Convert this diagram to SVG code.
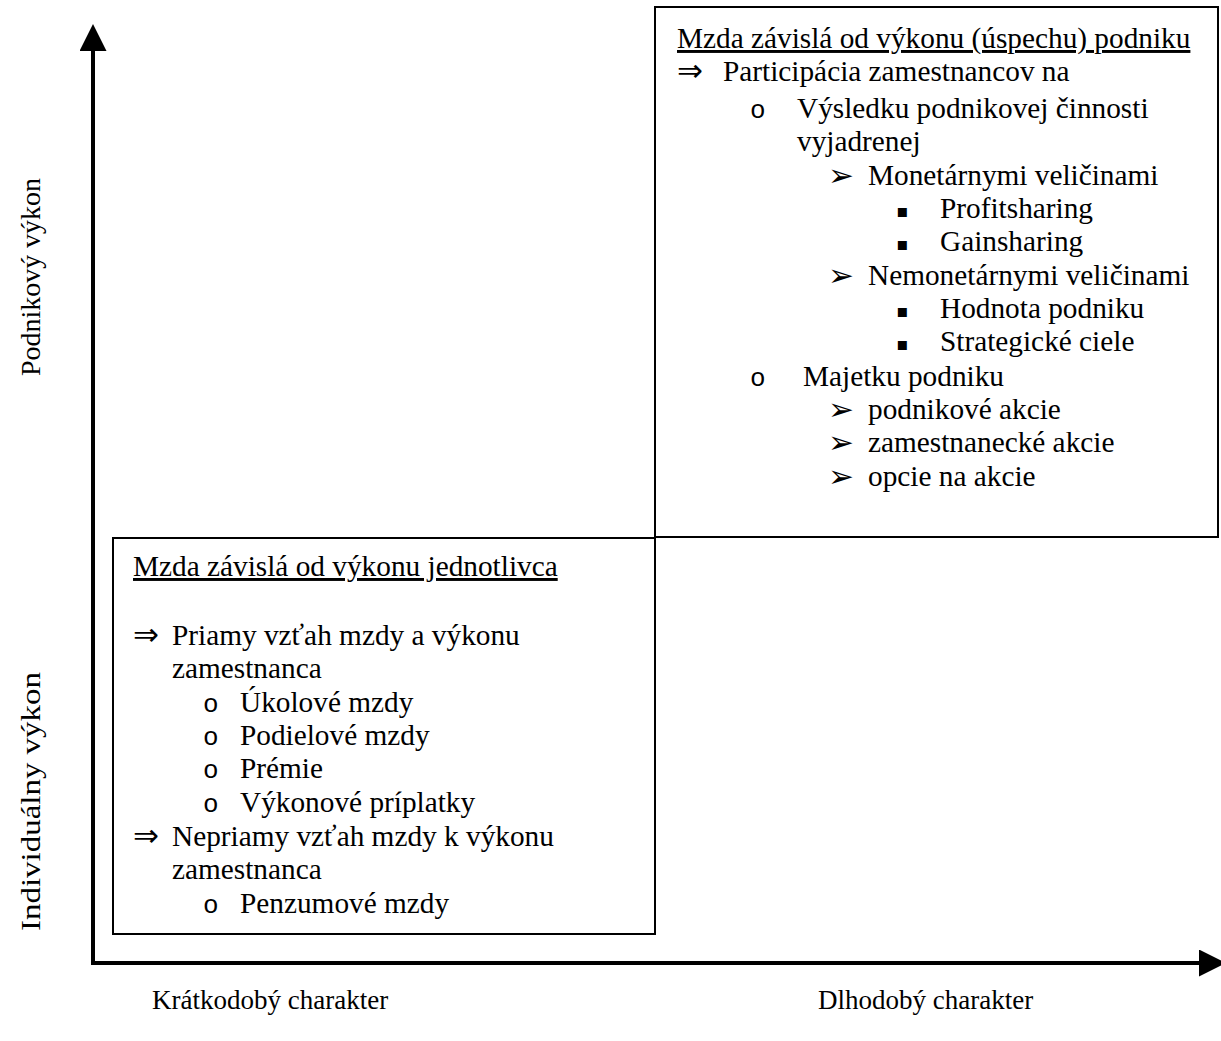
<svg xmlns="http://www.w3.org/2000/svg" width="1221" height="1041" viewBox="0 0 1221 1041">
  <style>
    text { font-family: "Liberation Serif", "Times New Roman", serif; font-size: 29.3px; fill: #000; }
    .sym { font-family: "DejaVu Sans", sans-serif; font-size: 31px; }
    .arr { font-family: "DejaVu Sans", sans-serif; font-size: 31px; }
    .sq { font-family: "DejaVu Sans", sans-serif; font-size: 18px; }
    .circ { font-family: "Liberation Mono", monospace; font-size: 26px; }
    .lbl { font-size: 27px; }
    .box { fill: #fff; stroke: #000; stroke-width: 2; }
    .axis { stroke: #000; stroke-width: 4; fill: none; }
    .ul { text-decoration: underline; }
  </style>
  <defs>
    <marker id="arrow" viewBox="0 0 27 27" refX="0" refY="13.5" markerWidth="27" markerHeight="27" markerUnits="userSpaceOnUse" orient="auto">
      <path d="M0,0 L27,13.5 L0,27 z" fill="#000"/>
    </marker>
  </defs>
  <rect width="1221" height="1041" fill="#fff"/>

  <g id="connectors">
    <line class="axis" x1="93" y1="963" x2="93" y2="51" marker-end="url(#arrow)"/>
    <line class="axis" x1="91" y1="963" x2="1199" y2="963" marker-end="url(#arrow)"/>
  </g>

  <g id="node-company">
    <rect class="box" x="655" y="7" width="563" height="530"/>
    <text x="677" y="48" class="ul">Mzda závislá od výkonu (úspechu) podniku</text>
    <text x="677" y="81" class="sym">⇒</text>
    <text x="723" y="81">Participácia zamestnancov na</text>
    <text x="750" y="118" class="circ">o</text>
    <text x="797" y="118">Výsledku podnikovej činnosti</text>
    <text x="797" y="151">vyjadrenej</text>
    <text x="828" y="186" class="arr">➢</text>
    <text x="868" y="185">Monetárnymi veličinami</text>
    <text x="896" y="217" class="sq">▪</text>
    <text x="940" y="218">Profitsharing</text>
    <text x="896" y="250" class="sq">▪</text>
    <text x="940" y="251">Gainsharing</text>
    <text x="828" y="286" class="arr">➢</text>
    <text x="868" y="285">Nemonetárnymi veličinami</text>
    <text x="896" y="317" class="sq">▪</text>
    <text x="940" y="318">Hodnota podniku</text>
    <text x="896" y="350" class="sq">▪</text>
    <text x="940" y="351">Strategické ciele</text>
    <text x="750" y="386" class="circ">o</text>
    <text x="803" y="386">Majetku podniku</text>
    <text x="828" y="420" class="arr">➢</text>
    <text x="868" y="419">podnikové akcie</text>
    <text x="828" y="453" class="arr">➢</text>
    <text x="868" y="452">zamestnanecké akcie</text>
    <text x="828" y="487" class="arr">➢</text>
    <text x="868" y="486">opcie na akcie</text>
  </g>

  <g id="node-individual">
    <rect class="box" x="113" y="538" width="542" height="396"/>
    <text x="133" y="576" class="ul">Mzda závislá od výkonu jednotlivca</text>
    <text x="133" y="645" class="sym">⇒</text>
    <text x="172" y="645">Priamy vzťah mzdy a výkonu</text>
    <text x="172" y="678">zamestnanca</text>
    <text x="203" y="712" class="circ">o</text>
    <text x="240" y="712">Úkolové mzdy</text>
    <text x="203" y="745" class="circ">o</text>
    <text x="240" y="745">Podielové mzdy</text>
    <text x="203" y="778" class="circ">o</text>
    <text x="240" y="778">Prémie</text>
    <text x="203" y="812" class="circ">o</text>
    <text x="240" y="812">Výkonové príplatky</text>
    <text x="133" y="846" class="sym">⇒</text>
    <text x="172" y="846">Nepriamy vzťah mzdy k výkonu</text>
    <text x="172" y="879">zamestnanca</text>
    <text x="203" y="913" class="circ">o</text>
    <text x="240" y="913">Penzumové mzdy</text>
  </g>

  <g id="label-short">
    <text class="lbl" x="152" y="1009">Krátkodobý charakter</text>
  </g>
  <g id="label-long">
    <text class="lbl" x="818" y="1009">Dlhodobý charakter</text>
  </g>
  <g id="label-company">
    <text class="lbl" transform="translate(40,376) rotate(-90)" textLength="198" lengthAdjust="spacingAndGlyphs">Podnikový výkon</text>
  </g>
  <g id="label-individual">
    <text class="lbl" transform="translate(40,931) rotate(-90)" textLength="259" lengthAdjust="spacingAndGlyphs">Individuálny výkon</text>
  </g>
</svg>
